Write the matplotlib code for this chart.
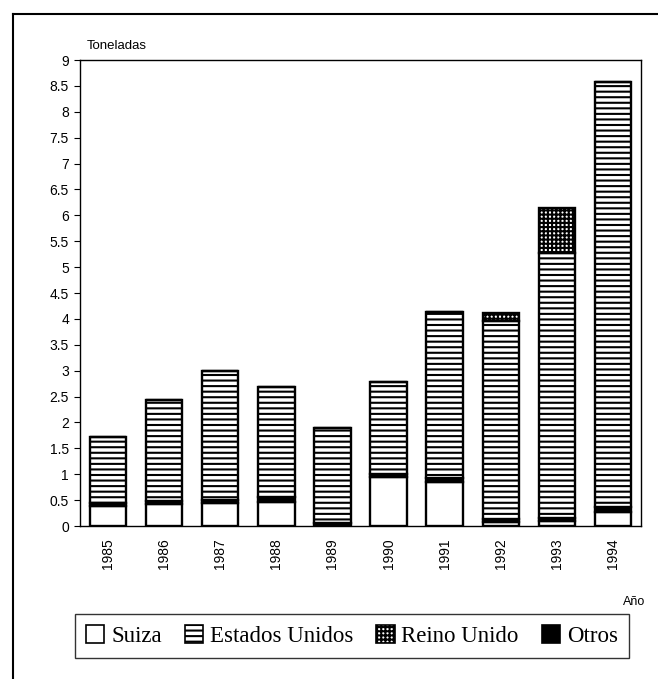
import matplotlib
matplotlib.use("Agg")
import matplotlib.pyplot as plt
from matplotlib.patches import Patch
from matplotlib.lines import Line2D
import numpy as np

years = ["1985", "1986", "1987", "1988", "1989", "1990", "1991", "1992", "1993", "1994"]
suiza = [0.39, 0.42, 0.44, 0.47, 0.00, 0.95, 0.85, 0.08, 0.10, 0.28]
otros = [0.06, 0.06, 0.06, 0.09, 0.06, 0.05, 0.08, 0.06, 0.05, 0.08]
estados_unidos = [1.26, 1.95, 2.50, 2.12, 1.83, 1.79, 3.20, 3.82, 5.13, 8.21]
reino_unido = [0.00, 0.00, 0.00, 0.00, 0.00, 0.00, 0.00, 0.15, 0.86, 0.00]
yticks = [0, 0.5, 1, 1.5, 2, 2.5, 3, 3.5, 4, 4.5, 5, 5.5, 6, 6.5, 7, 7.5, 8, 8.5, 9]

plt.rcParams["hatch.linewidth"] = 1.5
plt.rcParams["hatch.color"] = "black"

fig = plt.figure(figsize=(6.58, 6.79), dpi=100)
ax = fig.add_axes([80/658, 1-526/679, (641-80)/658, (526-60)/679])

x = np.arange(len(years))
w = 0.65
s = np.array(suiza)
o = np.array(otros)
eu = np.array(estados_unidos)
ru = np.array(reino_unido)

kw = dict(width=w, edgecolor="black", linewidth=1.7)
ax.bar(x, s, color="white", **kw)
ax.bar(x, o, bottom=s, color="black", **kw)
ax.bar(x, eu, bottom=s + o, color="white", hatch="---", **kw)
ax.bar(x, ru, bottom=s + o + eu, color="white", hatch="++++", **kw)

ax.set_xlim(-0.5, len(years) - 0.5)
ax.set_ylim(0, 9)
ax.set_yticks(yticks)
ax.set_yticklabels([f"{t:g}" for t in yticks], fontsize=10, family="Liberation Sans")
ax.set_xticks(x)
ax.set_xticklabels(years, rotation=90, fontsize=10, family="Liberation Sans")
ax.tick_params(axis="y", direction="out", length=4, width=0.8, pad=4)
ax.tick_params(axis="x", length=0, pad=9)
for sp in ax.spines.values():
    sp.set_linewidth(1.0)

fig.text(87/658, 1-46/679, "Toneladas", fontsize=9.5, family="Liberation Sans", va="center", ha="left")
fig.text(634/658, 1-602/679, "Año", fontsize=9, family="Liberation Sans", va="center", ha="center")

handles = [
    Patch(facecolor="white", edgecolor="black", linewidth=1.2, label="Suiza"),
    Patch(facecolor="white", edgecolor="black", linewidth=1.2, hatch="---", label="Estados Unidos"),
    Patch(facecolor="white", edgecolor="black", linewidth=1.2, hatch="++++", label="Reino Unido"),
    Patch(facecolor="black", edgecolor="black", linewidth=1.2, label="Otros"),
]
leg = fig.legend(handles=handles, loc="center", bbox_to_anchor=(352/658, 1-636/679),
                 bbox_transform=fig.transFigure, ncol=4, frameon=True, fancybox=False,
                 edgecolor="black", handlelength=0.8, handleheight=0.8, handletextpad=0.3,
                 columnspacing=1.0, borderpad=0.5, borderaxespad=0,
                 prop={"family": "Liberation Serif", "size": 16.5})
leg.get_frame().set_linewidth(1.0)

fig.add_artist(Line2D([13/658, 13/658], [0, 1-14/679], transform=fig.transFigure, color="black", linewidth=1.5))
fig.add_artist(Line2D([13/658, 1], [1-14/679, 1-14/679], transform=fig.transFigure, color="black", linewidth=1.5))

fig.savefig("out.png", dpi=100)
